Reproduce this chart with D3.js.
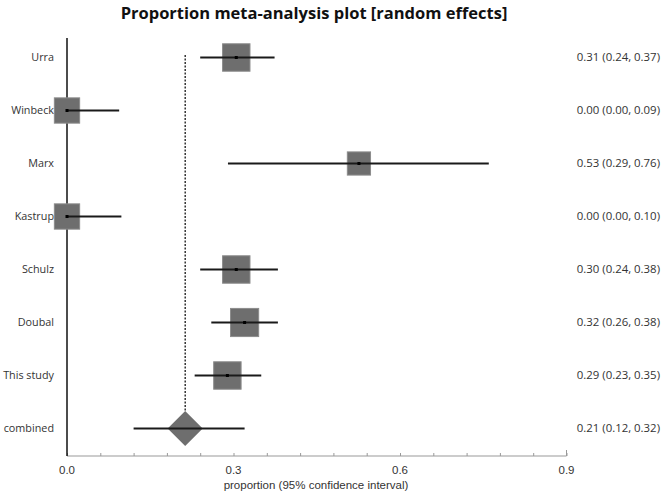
<!DOCTYPE html>
<html lang="en">
<head>
    <meta charset="UTF-8">
    <title>Proportion meta-analysis plot</title>
    <script src="https://d3js.org/d3.v7.min.js"></script>
    <style>
        body { margin: 0; background: #fff; }
        svg { display: block; font-family: "Open Sans", sans-serif; }
        .study-label { font-size: 10.8px; fill: #333; }
        .ci-label { font-size: 11.4px; fill: #333; }
        .tick-label { font-size: 11.5px; fill: #333; }
    </style>
</head>
<body>
    <svg width="666" height="493"></svg>
    <script>
        // Study data
        const studies = ["Urra", "Winbeck", "Marx", "Kastrup", "Schulz", "Doubal", "This study", "combined"];
        const estimates = [0.305, 0.0, 0.526, 0.0, 0.305, 0.32, 0.289, 0.213];
        const lower = [0.24, 0.0, 0.29, 0.0, 0.24, 0.26, 0.23, 0.12];
        const upper = [0.374, 0.094, 0.76, 0.098, 0.38, 0.38, 0.35, 0.32];
        const weights = [14.8, 12.6, 10.6, 12.6, 14.8, 15.6, 14.8];
        const ciLabels = ["0.31 (0.24, 0.37)", "0.00 (0.00, 0.09)", "0.53 (0.29, 0.76)", "0.00 (0.00, 0.10)",
                          "0.30 (0.24, 0.38)", "0.32 (0.26, 0.38)", "0.29 (0.23, 0.35)", "0.21 (0.12, 0.32)"];
        const majorTicks = [0, 0.3, 0.6, 0.9];

        const svg = d3.select('svg');

        const x = d3.scaleLinear().domain([0, 0.9]).range([67, 566.5]);
        const y = d3.scaleBand().domain(studies).range([31, 455]).paddingInner(0).paddingOuter(0);
        const size = d3.scaleSqrt().domain([0, 16]).range([0, 28.5]);
        const cy = d => y(d) + y.bandwidth() / 2;

        // title
        svg.append('text')
            .attr('x', 314)
            .attr('y', 19)
            .attr('text-anchor', 'middle')
            .style('font-size', '16.5px')
            .style('font-weight', 'bold')
            .style('fill', '#111')
            .text('Proportion meta-analysis plot [random effects]');

        // dotted line at the pooled estimate
        const pooled = estimates[estimates.length - 1];
        svg.append('line')
            .attr('x1', x(pooled)).attr('x2', x(pooled))
            .attr('y1', 55).attr('y2', cy('combined') - 16)
            .attr('stroke', '#333')
            .attr('stroke-width', 1.5)
            .attr('stroke-dasharray', '2,1.5');

        // x axis
        const xAxis = svg.append('g').attr('transform', 'translate(0,456)');
        xAxis.call(d3.axisBottom(x).tickValues(d3.range(0, 0.9001, 0.06)).tickSize(-3).tickFormat(''))
            .call(g => g.select('.domain').attr('stroke', '#999').attr('d', `M${x(0)},0H${x(0.9)}V-6`))
            .call(g => g.selectAll('.tick line').attr('stroke', '#999'));
        xAxis.selectAll('.major')
            .data(majorTicks)
            .enter().append('text')
            .attr('class', 'tick-label')
            .attr('x', d => x(d))
            .attr('y', 18)
            .attr('text-anchor', 'middle')
            .text(d => d.toFixed(1));
        xAxis.append('text')
            .attr('class', 'tick-label')
            .attr('x', 316)
            .attr('y', 33)
            .attr('text-anchor', 'middle')
            .text('proportion (95% confidence interval)');

        // vertical axis line at 0
        svg.append('line')
            .attr('x1', x(0)).attr('x2', x(0))
            .attr('y1', 38).attr('y2', 456)
            .attr('stroke', '#111')
            .attr('stroke-width', 1.5);

        const rows = studies.map((s, i) => ({
            name: s, est: estimates[i], lo: lower[i], hi: upper[i], w: weights[i], label: ciLabels[i]
        }));

        // study labels
        svg.selectAll('.study-label')
            .data(rows)
            .enter().append('text')
            .attr('class', 'study-label')
            .attr('x', 54)
            .attr('y', d => cy(d.name))
            .attr('dy', '0.35em')
            .attr('text-anchor', 'end')
            .text(d => d.name);

        // squares for studies
        const studyRows = rows.filter(d => d.name !== 'combined');
        svg.selectAll('.box')
            .data(studyRows)
            .enter().append('rect')
            .attr('class', 'box')
            .attr('x', d => x(d.est) - size(d.w) / 2)
            .attr('y', d => cy(d.name) - size(d.w) / 2)
            .attr('width', d => size(d.w))
            .attr('height', d => size(d.w))
            .attr('fill', '#6e6e6e')
            .attr('stroke', '#8c8c8c')
            .attr('stroke-width', 1);

        // diamond for combined
        const comb = rows[rows.length - 1];
        const dx = 17.5, dy = 17.5;
        svg.append('path')
            .attr('d', `M${x(comb.est) - dx},${cy(comb.name)}L${x(comb.est)},${cy(comb.name) - dy}L${x(comb.est) + dx},${cy(comb.name)}L${x(comb.est)},${cy(comb.name) + dy}Z`)
            .attr('fill', '#6e6e6e');

        // CI lines
        svg.selectAll('.ci')
            .data(rows)
            .enter().append('line')
            .attr('class', 'ci')
            .attr('x1', d => x(d.lo))
            .attr('x2', d => x(d.hi))
            .attr('y1', d => cy(d.name))
            .attr('y2', d => cy(d.name))
            .attr('stroke', '#1a1a1a')
            .attr('stroke-width', 2);

        // centre dots
        svg.selectAll('.dot')
            .data(studyRows)
            .enter().append('rect')
            .attr('x', d => x(d.est) - 1.5)
            .attr('y', d => cy(d.name) - 1.5)
            .attr('width', 3).attr('height', 3)
            .attr('fill', '#000');

        // right-hand estimates
        svg.selectAll('.ci-label')
            .data(rows)
            .enter().append('text')
            .attr('class', 'ci-label')
            .attr('x', 660)
            .attr('y', d => cy(d.name))
            .attr('dy', '0.35em')
            .attr('text-anchor', 'end')
            .text(d => d.label);
    </script>
</body>
</html>
